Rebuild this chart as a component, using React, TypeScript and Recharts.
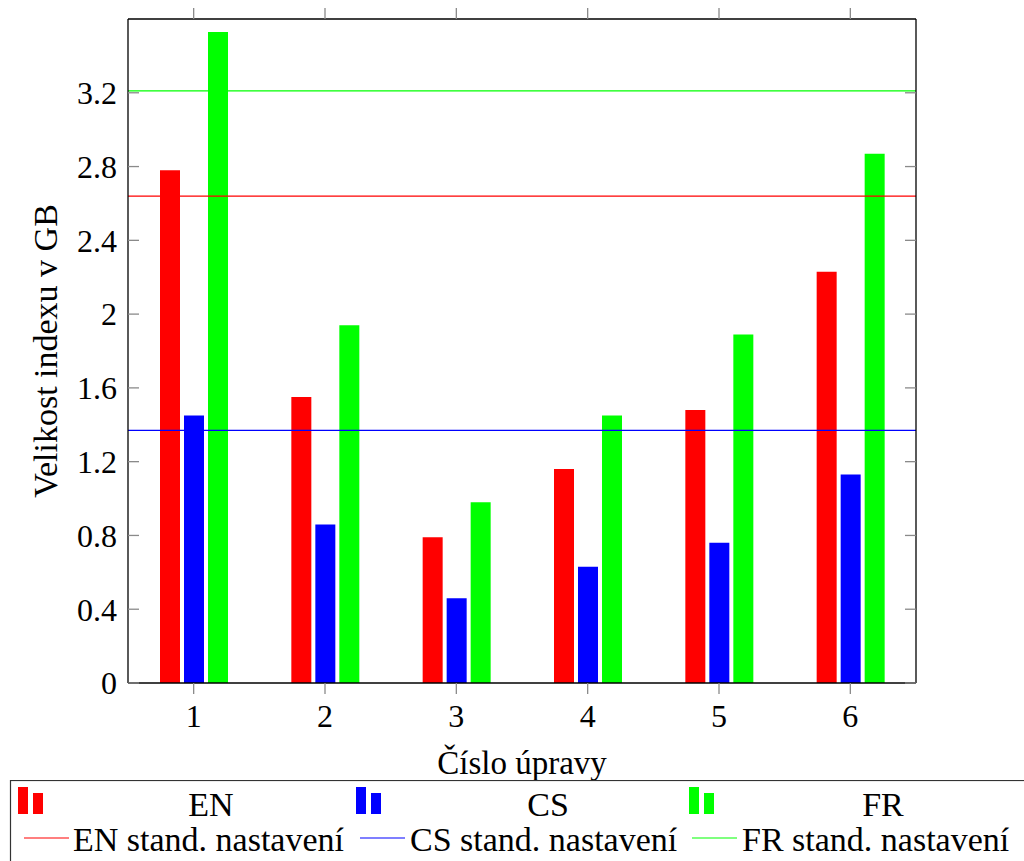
import React from 'react';
import { ComposedChart, Bar, Line, XAxis, YAxis, ReferenceLine } from 'recharts';

const categories = ['1', '2', '3', '4', '5', '6'];
const enValues = [2.78, 1.55, 0.79, 1.16, 1.48, 2.23];
const csValues = [1.45, 0.86, 0.46, 0.63, 0.76, 1.13];
const frValues = [3.53, 1.94, 0.98, 1.45, 1.89, 2.87];
const yTicks = [0, 0.4, 0.8, 1.2, 1.6, 2, 2.4, 2.8, 3.2];
const standardValues = { EN: 2.64, CS: 1.37, FR: 3.21 };

const data = categories.map((c, i) => ({ name: c, EN: enValues[i], CS: csValues[i], FR: frValues[i] }));

const RED = '#ff0000';
const BLUE = '#0000ff';
const GREEN = '#00ff00';
const FONT = '"Liberation Serif", "Times New Roman", serif';
const TICK_GRAY = '#8a8a8a';

const YLabel = (props: any) => {
  const vb = props.viewBox || { x: 0, y: 19, width: 128, height: 664 };
  const x = vb.x + 45;
  const y = vb.y + vb.height / 2;
  return (
    <text x={x} y={y} transform={`rotate(-90, ${x}, ${y})`} textAnchor="middle" dominantBaseline="central"
      style={{ fontFamily: FONT }} fontSize={34} fill="#000">Velikost indexu v GB</text>
  );
};

const XLabel = (props: any) => {
  const vb = props.viewBox || { x: 128, y: 683, width: 788, height: 80 };
  return (
    <text x={vb.x + vb.width / 2} y={vb.y + 91} textAnchor="middle" style={{ fontFamily: FONT }} fontSize={33} fill="#000">Číslo úpravy</text>
  );
};

const BarIcon = ({ x, color }: { x: number; color: string }) => (
  <g>
    <rect x={x} y={7} width={10} height={27} fill={color} />
    <rect x={x + 15} y={13} width={10} height={21} fill={color} />
  </g>
);

const legendText = { fontFamily: FONT };

export default function App() {
  return (
    <div style={{ position: 'absolute', left: 0, top: 0, width: 1024, height: 861, background: '#fff', overflow: 'hidden' }}>
      <ComposedChart width={1024} height={780} data={data} margin={{ top: 18, right: 108, left: 0, bottom: 17 }}
        barGap={4} barSize={20}>
        <XAxis xAxisId="bottom" dataKey="name" height={80} tickSize={11} tickMargin={10}
          axisLine={{ stroke: '#000', strokeWidth: 1.3 }} tickLine={{ stroke: TICK_GRAY, strokeWidth: 1.3 }}
          tick={{ fontFamily: FONT, fontSize: 32, fill: '#000' }} label={{ content: XLabel }} />
        <XAxis xAxisId="top" dataKey="name" orientation="top" height={1} tickSize={11}
          axisLine={{ stroke: '#000', strokeWidth: 1.3 }} tickLine={{ stroke: TICK_GRAY, strokeWidth: 1.3 }}
          tickFormatter={() => ''} />
        <YAxis yAxisId="left" width={128} domain={[0, 3.6]} ticks={yTicks} tickSize={0} tickMargin={11}
          tickLine={false} axisLine={{ stroke: '#000', strokeWidth: 1.3 }}
          tick={{ fontFamily: FONT, fontSize: 32, fill: '#000' }} label={{ content: YLabel }} />
        <YAxis yAxisId="leftTicks" mirror width={1} domain={[0, 3.6]} ticks={yTicks} tickSize={11}
          axisLine={false} tickLine={{ stroke: TICK_GRAY, strokeWidth: 1.3 }} tickFormatter={() => ''} />
        <YAxis yAxisId="right" orientation="right" mirror width={1} domain={[0, 3.6]} ticks={yTicks} tickSize={11}
          axisLine={{ stroke: '#000', strokeWidth: 1.3 }} tickLine={{ stroke: TICK_GRAY, strokeWidth: 1.3 }}
          tickFormatter={() => ''} />
        <Bar xAxisId="bottom" yAxisId="left" dataKey="EN" fill={RED} isAnimationActive={false} />
        <Bar xAxisId="bottom" yAxisId="left" dataKey="CS" fill={BLUE} isAnimationActive={false} />
        <Bar xAxisId="bottom" yAxisId="left" dataKey="FR" fill={GREEN} isAnimationActive={false} />
        <Line xAxisId="top" yAxisId="right" dataKey="EN" stroke="none" dot={false} activeDot={false} isAnimationActive={false} />
        <Line xAxisId="top" yAxisId="leftTicks" dataKey="EN" stroke="none" dot={false} activeDot={false} isAnimationActive={false} />
        <ReferenceLine xAxisId="bottom" yAxisId="left" y={standardValues.EN} stroke={RED} strokeWidth={1.2} />
        <ReferenceLine xAxisId="bottom" yAxisId="left" y={standardValues.CS} stroke={BLUE} strokeWidth={1.2} />
        <ReferenceLine xAxisId="bottom" yAxisId="left" y={standardValues.FR} stroke={GREEN} strokeWidth={1.2} />
      </ComposedChart>
      <svg width={1024} height={81} style={{ position: 'absolute', left: 0, top: 780 }}>
        <rect x={10.5} y={0.5} width={1100} height={200} fill="none" stroke="#333" strokeWidth={1.2} />
        <BarIcon x={18} color={RED} />
        <text x={211} y={36} textAnchor="middle" style={legendText} fontSize={34} fill="#000">EN</text>
        <BarIcon x={356} color={BLUE} />
        <text x={548} y={36} textAnchor="middle" style={legendText} fontSize={34} fill="#000">CS</text>
        <BarIcon x={689} color={GREEN} />
        <text x={883} y={36} textAnchor="middle" style={legendText} fontSize={34} fill="#000">FR</text>
        <line x1={24} x2={69} y1={58} y2={58} stroke={RED} strokeWidth={1.2} />
        <text x={73} y={71} style={legendText} fontSize={34} fill="#000">EN stand. nastavení</text>
        <line x1={360} x2={405} y1={58} y2={58} stroke={BLUE} strokeWidth={1.2} />
        <text x={410} y={71} style={legendText} fontSize={34} fill="#000">CS stand. nastavení</text>
        <line x1={692} x2={737} y1={58} y2={58} stroke={GREEN} strokeWidth={1.2} />
        <text x={742} y={71} style={legendText} fontSize={34} fill="#000">FR stand. nastavení</text>
      </svg>
    </div>
  );
}
